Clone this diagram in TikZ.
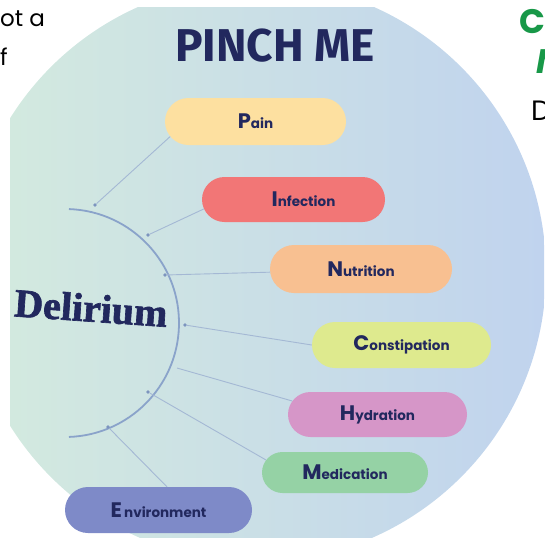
\documentclass[tikz,border=0pt]{standalone}
\usepackage{fontspec}
\setmainfont{Poppins}
\newfontfamily\headfont{Fira Sans}
\newfontfamily\delirfont[BoldFeatures={FakeBold=1.6}]{Liberation Serif}
\usetikzlibrary{shapes.misc}

\definecolor{bgL}{RGB}{212,235,222}
\definecolor{bgR}{RGB}{192,211,238}
\definecolor{navy}{RGB}{34,40,94}
\definecolor{linkc}{RGB}{164,184,212}
\definecolor{arcc}{RGB}{138,163,202}
\definecolor{dotc}{RGB}{124,148,190}
\definecolor{greenh}{RGB}{24,152,72}
\definecolor{cPain}{RGB}{253,224,160}
\definecolor{cInf}{RGB}{242,118,118}
\definecolor{cNut}{RGB}{248,192,145}
\definecolor{cCon}{RGB}{222,234,142}
\definecolor{cHyd}{RGB}{214,150,200}
\definecolor{cMed}{RGB}{149,210,165}
\definecolor{cEnv}{RGB}{126,138,200}

% a factor name: large first letter, smaller rest
\newcommand\factorword[2]{{\fontsize{21}{21}\selectfont #1}{\fontsize{13.5}{13.5}\selectfont #2}}

\tikzset{
  pill/.style={rounded rectangle, inner sep=0pt, text=navy, font=\bfseries},
  link/.style={draw=linkc, line width=0.9pt},
  arcline/.style={draw=arcc, line width=1.8pt},
  dotn/.style={circle, fill=dotc, inner sep=0pt, minimum size=3.6pt},
}

\begin{document}
\begin{tikzpicture}[x=1pt,y=-1pt]
\useasboundingbox (0,0) rectangle (544,549);

% shaded disc, trimmed by the page frame
\begin{scope}
  \clip (10,7) rectangle (544,537);
  \shade[left color=bgL, right color=bgR] (256,272) circle (290pt);
\end{scope}

% surrounding text fragments
\begin{scope}
  \clip (0,0) rectangle (544,549);
  \node[anchor=base west, inner sep=0pt, font=\fontsize{23}{23}\selectfont] (t1) at (0,26) {ot a};
  \node[anchor=base west, inner sep=0pt, font=\fontsize{23}{23}\selectfont] (t2) at (0,65) {f};
  \node[anchor=base west, inner sep=0pt, text=greenh, font=\fontsize{34}{34}\selectfont\bfseries] (t3) at (519,33) {C};
  \node[anchor=base west, inner sep=0pt, text=greenh, font=\fontsize{34}{34}\selectfont\bfseries\itshape] (t4) at (536,73) {M};
  \node[anchor=base west, inner sep=0pt, font=\fontsize{28}{28}\selectfont] (t5) at (531,120) {D};
\end{scope}

% title
\node[text=navy, font=\headfont\bfseries\fontsize{46}{46}\selectfont] (title) at (275,46) {PINCH ME};

% central label and its arc
\node[text=navy, font=\delirfont\bfseries\fontsize{40}{40}\selectfont, rotate=-4] (delir) at (91,308) {Delirium};
\draw[arcline] (65,323) ++(88:114pt) arc[start angle=88, end angle=-88, radius=114pt];

% junction dots on the arc
\node[dotn] (dP) at (95,205) {};
\node[dotn] (dI) at (148,235) {};
\node[dotn] (dN) at (165,275) {};
\node[dotn] (dC) at (185,325) {};
\coordinate (dH) at (177,368);
\node[dotn] (dM) at (148,392) {};
\node[dotn] (dE) at (108,427) {};

% factor pills
\node[pill, fill=cPain, minimum width=181pt, minimum height=47pt] (pain) at (255.5,121.5) {\factorword{P}{ain}};
\node[pill, fill=cInf,  minimum width=183pt, minimum height=45pt] (inf)  at (293.5,199.5) {\hspace{20pt}\factorword{I}{nfection}};
\node[pill, fill=cNut,  minimum width=182pt, minimum height=48pt] (nut)  at (361,269) {\factorword{N}{utrition}};
\node[pill, fill=cCon,  minimum width=179pt, minimum height=46pt] (con)  at (401.5,345) {\factorword{C}{onstipation}\hspace{10pt}};
\node[pill, fill=cHyd,  minimum width=179pt, minimum height=45pt] (hyd)  at (377.5,414.5) {\factorword{H}{ydration}\hspace{12pt}};
\node[pill, fill=cMed,  minimum width=166pt, minimum height=41pt] (med)  at (345,472.5) {\factorword{M}{edication}\hspace{6pt}};
\node[pill, fill=cEnv,  minimum width=187pt, minimum height=46pt] (env)  at (158.5,510) {\factorword{E}{\,nvironment}};

% connectors from the arc to each factor
\draw[link] (dP) -- (pain.190);
\draw[link] (dI) -- (inf.186);
\draw[link] (dN) -- (nut.182);
\draw[link] (dC) -- (con.180);
\draw[link] (dH) -- (hyd.171);
\draw[link] (dM) -- (med.171);
\draw[link] (dE) -- (env.70);
\end{tikzpicture}
\end{document}
